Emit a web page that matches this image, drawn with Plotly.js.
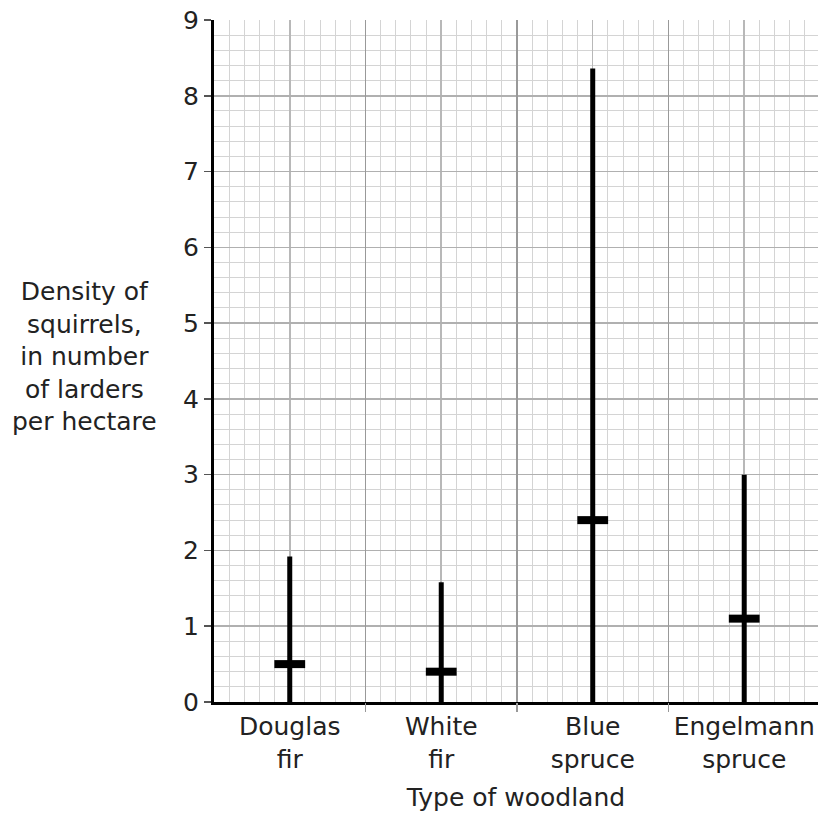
<!DOCTYPE html>
<html><head><meta charset="utf-8">
<script src="https://cdn.plot.ly/plotly-3.0.1.min.js"></script>
<style>html,body{margin:0;padding:0;background:#fff}</style>
</head><body><div id="chart" style="width:818px;height:814px"></div>
<script>
const categories = ['Douglas<br>fir', 'White<br>fir', 'Blue<br>spruce', 'Engelmann<br>spruce'];
const maxValues = [1.92, 1.58, 8.36, 3.0];
const markValues = [0.5, 0.4, 2.4, 1.1];
const yTickValues = [0, 1, 2, 3, 4, 5, 6, 7, 8, 9];
const categoryIndex = categories.map((c, i) => i);
const boundaries = [0.5, 1.5, 2.5];

const FONT = 'DejaVu Sans, Liberation Sans, Arial, sans-serif';
const TXT = '#222';
const FS = 25;
const xRange = [-0.5, 3.487];

const traces = [
  {
    type: 'scatter', mode: 'markers',
    x: categoryIndex, y: markValues,
    marker: { symbol: 'line-ew', size: 22, color: '#000', line: { width: 8, color: '#000' } },
    error_y: {
      type: 'data', symmetric: false,
      array: maxValues.map((m, i) => m - markValues[i]),
      arrayminus: markValues.slice(),
      thickness: 5, width: 0, color: '#000'
    },
    hoverinfo: 'skip', showlegend: false, cliponaxis: false
  },
  {
    type: 'scatter', mode: 'markers', xaxis: 'x2',
    x: boundaries, y: boundaries.map(() => null),
    marker: { opacity: 0 }, hoverinfo: 'skip', showlegend: false
  }
];

const layout = {
  width: 818, height: 814,
  margin: { l: 214, r: 0, t: 20, b: 112 },
  paper_bgcolor: '#fff', plot_bgcolor: '#fff',
  font: { family: FONT, size: FS, color: TXT },
  showlegend: false,
  xaxis: {
    range: xRange, tickmode: 'array', tickvals: categoryIndex, ticktext: categories,
    ticks: '', showgrid: true, gridcolor: '#b8b8b8', gridwidth: 1.5,
    minor: { dtick: 0.1, tick0: 0, showgrid: true, gridcolor: '#d4d4d4', gridwidth: 1, ticks: '' },
    showline: true, linecolor: '#000', linewidth: 3, zeroline: false,
    tickfont: { family: FONT, size: FS, color: TXT },
    title: { text: 'Type of woodland', font: { family: FONT, size: FS, color: TXT }, standoff: 16 },
    automargin: false, fixedrange: true
  },
  xaxis2: {
    overlaying: 'x', range: xRange, tickmode: 'array', tickvals: boundaries,
    showticklabels: false, ticks: 'outside', ticklen: 9, tickwidth: 1.5, tickcolor: '#999',
    showgrid: true, gridcolor: '#999', gridwidth: 1.5, zeroline: false, showline: false,
    anchor: 'y', side: 'bottom', automargin: false
  },
  yaxis: {
    range: [0, 9], tickmode: 'array', tickvals: yTickValues,
    ticks: 'outside', ticklen: 7, tickwidth: 1.5, tickcolor: '#555',
    showgrid: true, gridcolor: '#b0b0b0', gridwidth: 1.5,
    minor: { dtick: 0.2, tick0: 0, showgrid: true, gridcolor: '#d4d4d4', gridwidth: 1, ticks: '' },
    showline: true, linecolor: '#000', linewidth: 3, zeroline: false,
    tickfont: { family: FONT, size: FS, color: TXT },
    automargin: false, fixedrange: true
  },
  annotations: [{
    xref: 'paper', yref: 'paper', x: -0.2136, y: 0.506,
    xanchor: 'center', yanchor: 'middle', align: 'center', showarrow: false,
    text: 'Density of<br>squirrels,<br>in number<br>of larders<br>per hectare',
    font: { family: FONT, size: FS, color: TXT }
  }]
};

Plotly.newPlot('chart', traces, layout, { displayModeBar: false, staticPlot: true });
</script>
</body></html>
